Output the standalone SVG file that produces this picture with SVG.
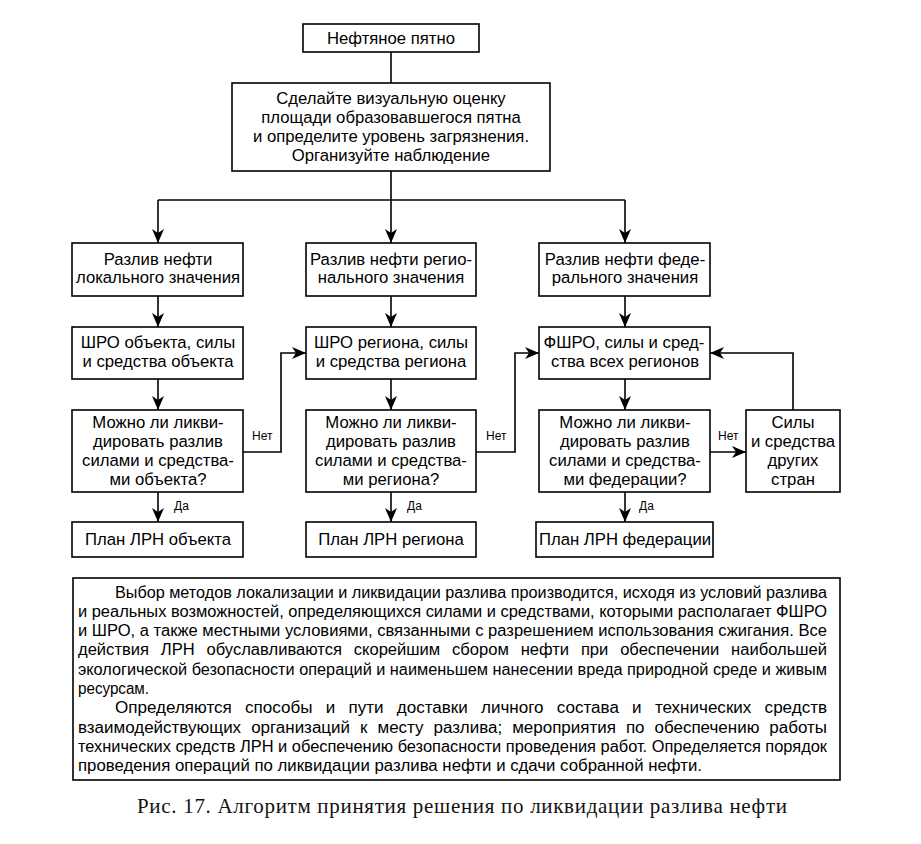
<svg xmlns="http://www.w3.org/2000/svg" width="921" height="844" viewBox="0 0 921 844">
<defs>
<marker id="ah" viewBox="0 0 14 12" refX="14" refY="6" markerWidth="14" markerHeight="12" markerUnits="userSpaceOnUse" orient="auto">
<path d="M0,0 L14,6 L0,12 L4,6 z" fill="#000"/>
</marker>
<style>
.b{fill:#fff;stroke:#000;stroke-width:1.6}
.t{font-family:"Liberation Sans",Arial,sans-serif;font-size:16.7px;text-anchor:middle;fill:#000}
.s{font-family:"Liberation Sans",Arial,sans-serif;font-size:12px;fill:#000}
.p{font-family:"Liberation Sans",Arial,sans-serif;font-size:16px;fill:#000}
.c{fill:none;stroke:#000;stroke-width:1.6}
.a{marker-end:url(#ah)}
.cap{font-family:"Liberation Serif","Times New Roman",serif;font-size:21px;fill:#111}
</style>
</defs>
<rect width="921" height="844" fill="#fff"/>
<g id="connectors">
<path class="c" d="M391,52 V83"/>
<path class="c" d="M391,171 V200 M158,200 H625"/>
<path class="c a" d="M158,200 V243"/>
<path class="c a" d="M391,200 V243"/>
<path class="c a" d="M625,200 V243"/>
<path class="c a" d="M158,296 V327"/>
<path class="c a" d="M391,296 V327"/>
<path class="c a" d="M625,296 V327"/>
<path class="c a" d="M158,379 V410"/>
<path class="c a" d="M391,379 V410"/>
<path class="c a" d="M625,379 V410"/>
<path class="c a" d="M158,492 V522"/>
<path class="c a" d="M391,492 V522"/>
<path class="c a" d="M625,492 V522"/>
<path class="c a" d="M243,452 H281 V353 H306"/>
<path class="c a" d="M476,452 H515 V353 H539"/>
<path class="c a" d="M710,452 H746"/>
<path class="c a" d="M793,410 V353 H710"/>
<text class="s" x="252" y="440">Нет</text>
<text class="s" x="486" y="440">Нет</text>
<text class="s" x="718" y="440">Нет</text>
<text class="s" x="174" y="510">Да</text>
<text class="s" x="407" y="510">Да</text>
<text class="s" x="639" y="510">Да</text>
</g>
<g id="start">
<rect class="b" x="303" y="24" width="176" height="28"/>
<text class="t" x="391" y="43.5">Нефтяное пятно</text>
</g>
<g id="assess">
<rect class="b" x="232" y="83" width="318" height="88"/>
<text class="t" x="391" y="103.5">Сделайте визуальную оценку</text>
<text class="t" x="391" y="122.5">площади образовавшегося пятна</text>
<text class="t" x="391" y="141.5">и определите уровень загрязнения.</text>
<text class="t" x="391" y="160.5">Организуйте наблюдение</text>
</g>
<g id="local">
<rect class="b" x="72" y="243" width="171" height="53"/>
<text class="t" x="158" y="264.5">Разлив нефти</text>
<text class="t" x="158" y="283">локального значения</text>
</g>
<g id="regional">
<rect class="b" x="306" y="243" width="170" height="53"/>
<text class="t" x="391" y="264.5">Разлив нефти регио-</text>
<text class="t" x="391" y="283">нального значения</text>
</g>
<g id="federal">
<rect class="b" x="539" y="243" width="171" height="53"/>
<text class="t" x="625" y="264.5">Разлив нефти феде-</text>
<text class="t" x="625" y="283">рального значения</text>
</g>
<g id="sro-object">
<rect class="b" x="72" y="327" width="171" height="52"/>
<text class="t" x="158" y="348">ШРО объекта, силы</text>
<text class="t" x="158" y="367">и средства объекта</text>
</g>
<g id="sro-region">
<rect class="b" x="306" y="327" width="170" height="52"/>
<text class="t" x="391" y="348">ШРО региона, силы</text>
<text class="t" x="391" y="367">и средства региона</text>
</g>
<g id="fsro">
<rect class="b" x="539" y="327" width="171" height="52"/>
<text class="t" x="624" y="348">ФШРО, силы и сред-</text>
<text class="t" x="625" y="367">ства всех регионов</text>
</g>
<g id="q-object">
<rect class="b" x="72" y="410" width="171" height="82"/>
<text class="t" x="158" y="428">Можно ли ликви-</text>
<text class="t" x="158" y="447">дировать разлив</text>
<text class="t" x="158" y="466">силами и средства-</text>
<text class="t" x="158" y="484.5">ми объекта?</text>
</g>
<g id="q-region">
<rect class="b" x="306" y="410" width="170" height="82"/>
<text class="t" x="391" y="428">Можно ли ликви-</text>
<text class="t" x="391" y="447">дировать разлив</text>
<text class="t" x="391" y="466">силами и средства-</text>
<text class="t" x="391" y="484.5">ми региона?</text>
</g>
<g id="q-federal">
<rect class="b" x="539" y="410" width="171" height="82"/>
<text class="t" x="625" y="428">Можно ли ликви-</text>
<text class="t" x="625" y="447">дировать разлив</text>
<text class="t" x="625" y="466">силами и средства-</text>
<text class="t" x="625" y="484.5">ми федерации?</text>
</g>
<g id="other-countries">
<rect class="b" x="746" y="410" width="94" height="82"/>
<text class="t" x="793" y="428">Силы</text>
<text class="t" x="793" y="447">и средства</text>
<text class="t" x="793" y="466">других</text>
<text class="t" x="793" y="484.5">стран</text>
</g>
<g id="plan-object">
<rect class="b" x="72" y="522" width="171" height="35"/>
<text class="t" x="158" y="544.5">План ЛРН объекта</text>
</g>
<g id="plan-region">
<rect class="b" x="306" y="522" width="170" height="35"/>
<text class="t" x="391" y="544.5">План ЛРН региона</text>
</g>
<g id="plan-federal">
<rect class="b" x="536" y="522" width="177" height="35"/>
<text class="t" x="625" y="544.5">План ЛРН федерации</text>
</g>
<g id="note">
<rect class="b" x="73" y="578" width="767" height="202"/>
<text class="p" x="115" y="597.5" textLength="712" lengthAdjust="spacingAndGlyphs">Выбор методов локализации и ликвидации разлива производится, исходя из условий разлива</text>
<text class="p" x="78" y="616.8" textLength="749" lengthAdjust="spacingAndGlyphs">и реальных возможностей, определяющихся силами и средствами, которыми располагает ФШРО</text>
<text class="p" x="78" y="636.1" textLength="749" lengthAdjust="spacingAndGlyphs">и ШРО, а также местными условиями, связанными с разрешением использования сжигания. Все</text>
<text class="p" x="78" y="655.4" textLength="749" lengthAdjust="spacingAndGlyphs" word-spacing="7">действия ЛРН обуславливаются скорейшим сбором нефти при обеспечении наибольшей</text>
<text class="p" x="78" y="674.7" textLength="749" lengthAdjust="spacingAndGlyphs">экологической безопасности операций и наименьшем нанесении вреда природной среде и живым</text>
<text class="p" x="78" y="694" textLength="71" lengthAdjust="spacingAndGlyphs">ресурсам.</text>
<text class="p" x="115" y="713.3" textLength="712" lengthAdjust="spacingAndGlyphs" word-spacing="8">Определяются способы и пути доставки личного состава и технических средств</text>
<text class="p" x="78" y="732.6" textLength="749" lengthAdjust="spacingAndGlyphs" word-spacing="5">взаимодействующих организаций к месту разлива; мероприятия по обеспечению работы</text>
<text class="p" x="78" y="751.9" textLength="749" lengthAdjust="spacingAndGlyphs">технических средств ЛРН и обеспечению безопасности проведения работ. Определяется порядок</text>
<text class="p" x="78" y="771.2" textLength="624" lengthAdjust="spacingAndGlyphs">проведения операций по ликвидации разлива нефти и сдачи собранной нефти.</text>
</g>
<text class="cap" x="137" y="813" textLength="650" lengthAdjust="spacing">Рис. 17. Алгоритм принятия решения по ликвидации разлива нефти</text>
</svg>
